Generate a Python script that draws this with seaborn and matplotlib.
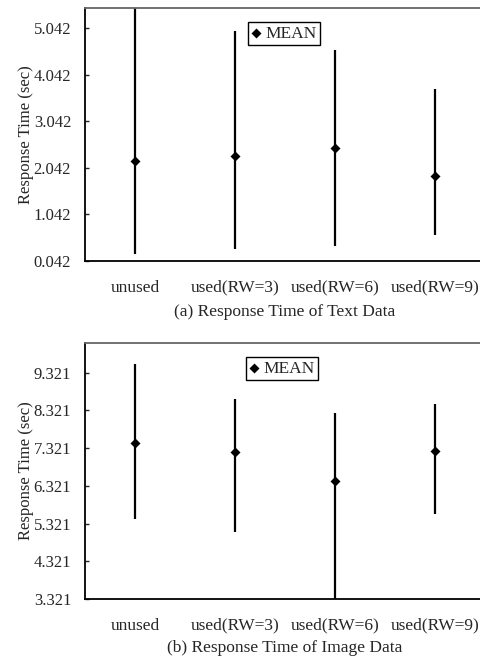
import numpy as np
import pandas as pd
import matplotlib
matplotlib.use("Agg")
import matplotlib.pyplot as plt
import seaborn as sns

categories = ["unused", "used(RW=3)", "used(RW=6)", "used(RW=9)"]

# (a) text data
text_mean = [2.19, 2.29, 2.46, 1.87]
text_low = [0.19, 0.29, 0.37, 0.60]
text_high = [5.60, 4.98, 4.57, 3.73]
text_ticks = [0.042, 1.042, 2.042, 3.042, 4.042, 5.042]

# (b) image data
img_mean = [7.45, 7.22, 6.45, 7.24]
img_low = [5.45, 5.09, 3.10, 5.57]
img_high = [9.55, 8.63, 8.25, 8.48]
img_ticks = [3.321, 4.321, 5.321, 6.321, 7.321, 8.321, 9.321]

sns.set_style("white")
plt.rcParams['font.family'] = ['Liberation Serif', 'DejaVu Serif']
plt.rcParams['font.size'] = 12

fig = plt.figure(figsize=(4.8, 6.57), dpi=100)
ax1 = fig.add_axes([85/480, 1 - 261/657, 400/480, 253/657])
ax2 = fig.add_axes([85/480, 1 - 599/657, 400/480, 256/657])


def panel(ax, mean, low, high, ticks, ylim, caption, cap_y, leg_x):
    df = pd.DataFrame({"cat": categories, "mean": mean, "low": low, "high": high})
    ax.vlines(range(len(categories)), df["low"], df["high"], color="black", lw=1.6, zorder=2)
    sns.scatterplot(data=df, x="cat", y="mean", marker="D", s=26, color="black",
                    edgecolor="black", linewidth=0, ax=ax, zorder=3, label="MEAN")
    ax.set_xlim(-0.5, 3.5)
    ax.set_ylim(*ylim)
    ax.set_yticks(ticks)
    ax.set_yticklabels([f"{t:.3f}" for t in ticks])
    ax.set_xticks(range(4))
    ax.set_xticklabels(categories, va="baseline", fontsize=12.5)
    ax.set_xticks([0.5, 1.5, 2.5], minor=True)
    ax.tick_params(axis="x", which="major", length=0, pad=22)
    ax.tick_params(axis="x", which="minor", direction="in", length=4, width=1, color="#555555")
    ax.tick_params(axis="y", direction="in", length=3, width=1, pad=10, labelsize=12, left=True)
    ax.set_xlabel("")
    ax.set_ylabel("Response Time (sec)", fontsize=12, labelpad=0)
    for s in ["left", "bottom"]:
        ax.spines[s].set_color("black")
        ax.spines[s].set_linewidth(1.3)
    ax.spines["top"].set_color("#666666")
    ax.spines["top"].set_linewidth(1.3)
    ax.spines["right"].set_visible(False)
    leg = ax.legend(loc="upper left", bbox_to_anchor=(leg_x, 0.945), frameon=True,
                    fancybox=False, edgecolor="black", framealpha=1, handlelength=0.5,
                    handletextpad=0.3, borderpad=0.2, borderaxespad=0, fontsize=12.5,
                    markerscale=1.0)
    leg.get_frame().set_linewidth(1.0)
    fig.text(285/480, 1 - cap_y/657, caption, ha="center", va="center", fontsize=12.5)


panel(ax1, text_mean, text_low, text_high, text_ticks, (0.042, 5.47),
      "(a) Response Time of Text Data", 312, 0.408)
panel(ax2, img_mean, img_low, img_high, img_ticks, (3.321, 10.11),
      "(b) Response Time of Image Data", 648, 0.403)

fig.savefig("out.png", dpi=100)
